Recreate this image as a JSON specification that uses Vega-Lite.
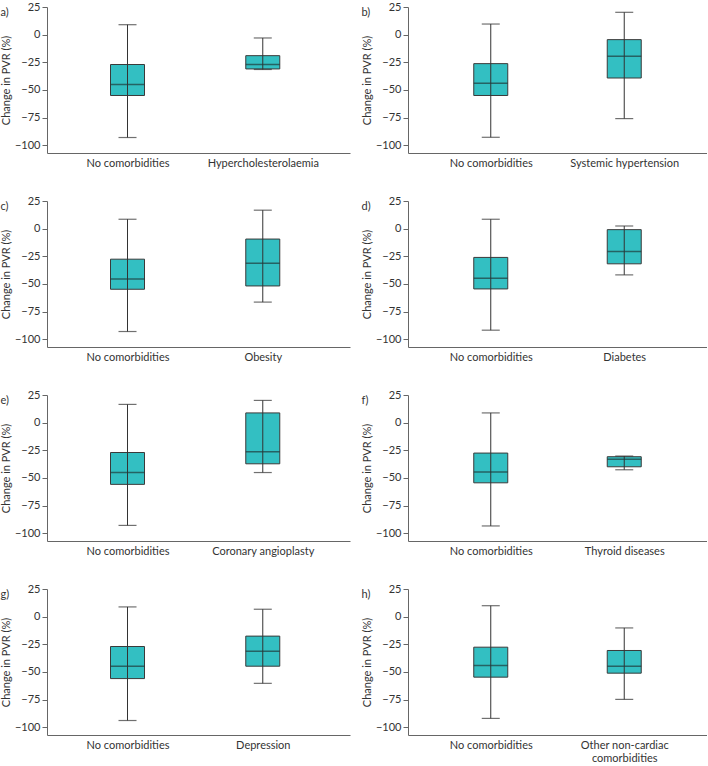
{
  "$schema": "https://vega.github.io/schema/vega-lite/v6.json",
  "padding": {"left": 0, "top": 1, "right": 0, "bottom": 0},
  "datasets": {
    "boxes": [
      {"panel": "a", "group": "No comorbidities", "upper": 9, "q3": -27, "median": -45, "q1": -55, "lower": -93},
      {"panel": "a", "group": "Hypercholesterolaemia", "upper": -3, "q3": -19, "median": -27, "q1": -31, "lower": -31.5},
      {"panel": "b", "group": "No comorbidities", "upper": 9.6, "q3": -26.2, "median": -44, "q1": -55, "lower": -92.8},
      {"panel": "b", "group": "Systemic hypertension", "upper": 20.2, "q3": -4.5, "median": -19.6, "q1": -39.2, "lower": -75.9},
      {"panel": "c", "group": "No comorbidities", "upper": 8.5, "q3": -27.6, "median": -45.5, "q1": -54.8, "lower": -93},
      {"panel": "c", "group": "Obesity", "upper": 16.7, "q3": -9.4, "median": -31.2, "q1": -51.8, "lower": -66.4},
      {"panel": "d", "group": "No comorbidities", "upper": 8.5, "q3": -26, "median": -44.8, "q1": -54.5, "lower": -91.8},
      {"panel": "d", "group": "Diabetes", "upper": 2.4, "q3": -0.9, "median": -20.6, "q1": -31.8, "lower": -41.8},
      {"panel": "e", "group": "No comorbidities", "upper": 16.5, "q3": -27, "median": -45, "q1": -55.8, "lower": -92.9},
      {"panel": "e", "group": "Coronary angioplasty", "upper": 20.1, "q3": 8.8, "median": -26.2, "q1": -37.2, "lower": -45.1},
      {"panel": "f", "group": "No comorbidities", "upper": 8.8, "q3": -27.5, "median": -44.7, "q1": -54.4, "lower": -93.4},
      {"panel": "f", "group": "Thyroid diseases", "upper": -30.2, "q3": -30.8, "median": -33.2, "q1": -39.9, "lower": -42.6},
      {"panel": "g", "group": "No comorbidities", "upper": 8.8, "q3": -27, "median": -44.8, "q1": -56, "lower": -93.9},
      {"panel": "g", "group": "Depression", "upper": 6.7, "q3": -17.6, "median": -31.2, "q1": -44.8, "lower": -60.3},
      {"panel": "h", "group": "No comorbidities", "upper": 9.9, "q3": -27.6, "median": -44.2, "q1": -54.7, "lower": -92},
      {"panel": "h", "group": "Other non-cardiac comorbidities", "upper": -10.2, "q3": -30.6, "median": -44.8, "q1": -51.1, "lower": -74.8}
    ]
  },
  "data": {"name": "boxes"},
  "columns": 2,
  "spacing": {"row": 48, "column": 58},
  "bounds": "flush",
  "concat": [
    {
      "width": 303, "height": 146,
      "title": {"text": "a)"},
      "transform": [{"filter": "datum.panel == 'a'"}],
      "encoding": {"x": {"field": "group", "type": "nominal", "sort": null, "scale": {"type": "point", "padding": 0.62, "align": 0.48}, "axis": {"title": null}}},
      "layer": [
        {"mark": {"type": "bar", "size": 34, "fill": "#33BFC2", "stroke": "#3a3a3a", "strokeWidth": 1},
         "encoding": {"y": {"field": "q1", "type": "quantitative", "scale": {"domain": [-107, 25], "nice": false}, "axis": {"title": "Change in PVR (%)", "values": [-100, -75, -50, -25, 0, 25]}}, "y2": {"field": "q3"}}},
        {"mark": {"type": "rule", "color": "#333", "strokeWidth": 1}, "encoding": {"y": {"field": "lower", "type": "quantitative", "scale": {"domain": [-107, 25], "nice": false}, "axis": {"title": "Change in PVR (%)", "values": [-100, -75, -50, -25, 0, 25]}}, "y2": {"field": "upper"}}},
        {"mark": {"type": "tick", "size": 34, "thickness": 1.5, "color": "#1f3a3a"}, "encoding": {"y": {"field": "median", "type": "quantitative", "scale": {"domain": [-107, 25], "nice": false}, "axis": {"title": "Change in PVR (%)", "values": [-100, -75, -50, -25, 0, 25]}}}},
        {"mark": {"type": "tick", "size": 18, "thickness": 1.2, "color": "#333"}, "encoding": {"y": {"field": "lower", "type": "quantitative", "scale": {"domain": [-107, 25], "nice": false}, "axis": {"title": "Change in PVR (%)", "values": [-100, -75, -50, -25, 0, 25]}}}},
        {"mark": {"type": "tick", "size": 18, "thickness": 1.2, "color": "#333"}, "encoding": {"y": {"field": "upper", "type": "quantitative", "scale": {"domain": [-107, 25], "nice": false}, "axis": {"title": "Change in PVR (%)", "values": [-100, -75, -50, -25, 0, 25]}}}}
      ]
    },
    {
      "width": 299, "height": 146,
      "title": {"text": "b)"},
      "transform": [{"filter": "datum.panel == 'b'"}],
      "encoding": {"x": {"field": "group", "type": "nominal", "sort": null, "scale": {"type": "point", "padding": 0.62, "align": 0.5}, "axis": {"title": null}}},
      "layer": [
        {"mark": {"type": "bar", "size": 34, "fill": "#33BFC2", "stroke": "#3a3a3a", "strokeWidth": 1},
         "encoding": {"y": {"field": "q1", "type": "quantitative", "scale": {"domain": [-107, 25], "nice": false}, "axis": {"title": "Change in PVR (%)", "values": [-100, -75, -50, -25, 0, 25]}}, "y2": {"field": "q3"}}},
        {"mark": {"type": "rule", "color": "#333", "strokeWidth": 1}, "encoding": {"y": {"field": "lower", "type": "quantitative", "scale": {"domain": [-107, 25], "nice": false}, "axis": {"title": "Change in PVR (%)", "values": [-100, -75, -50, -25, 0, 25]}}, "y2": {"field": "upper"}}},
        {"mark": {"type": "tick", "size": 34, "thickness": 1.5, "color": "#1f3a3a"}, "encoding": {"y": {"field": "median", "type": "quantitative", "scale": {"domain": [-107, 25], "nice": false}, "axis": {"title": "Change in PVR (%)", "values": [-100, -75, -50, -25, 0, 25]}}}},
        {"mark": {"type": "tick", "size": 18, "thickness": 1.2, "color": "#333"}, "encoding": {"y": {"field": "lower", "type": "quantitative", "scale": {"domain": [-107, 25], "nice": false}, "axis": {"title": "Change in PVR (%)", "values": [-100, -75, -50, -25, 0, 25]}}}},
        {"mark": {"type": "tick", "size": 18, "thickness": 1.2, "color": "#333"}, "encoding": {"y": {"field": "upper", "type": "quantitative", "scale": {"domain": [-107, 25], "nice": false}, "axis": {"title": "Change in PVR (%)", "values": [-100, -75, -50, -25, 0, 25]}}}}
      ]
    },
    {
      "width": 303, "height": 146,
      "title": {"text": "c)"},
      "transform": [{"filter": "datum.panel == 'c'"}],
      "encoding": {"x": {"field": "group", "type": "nominal", "sort": null, "scale": {"type": "point", "padding": 0.62, "align": 0.48}, "axis": {"title": null}}},
      "layer": [
        {"mark": {"type": "bar", "size": 34, "fill": "#33BFC2", "stroke": "#3a3a3a", "strokeWidth": 1},
         "encoding": {"y": {"field": "q1", "type": "quantitative", "scale": {"domain": [-107, 25], "nice": false}, "axis": {"title": "Change in PVR (%)", "values": [-100, -75, -50, -25, 0, 25]}}, "y2": {"field": "q3"}}},
        {"mark": {"type": "rule", "color": "#333", "strokeWidth": 1}, "encoding": {"y": {"field": "lower", "type": "quantitative", "scale": {"domain": [-107, 25], "nice": false}, "axis": {"title": "Change in PVR (%)", "values": [-100, -75, -50, -25, 0, 25]}}, "y2": {"field": "upper"}}},
        {"mark": {"type": "tick", "size": 34, "thickness": 1.5, "color": "#1f3a3a"}, "encoding": {"y": {"field": "median", "type": "quantitative", "scale": {"domain": [-107, 25], "nice": false}, "axis": {"title": "Change in PVR (%)", "values": [-100, -75, -50, -25, 0, 25]}}}},
        {"mark": {"type": "tick", "size": 18, "thickness": 1.2, "color": "#333"}, "encoding": {"y": {"field": "lower", "type": "quantitative", "scale": {"domain": [-107, 25], "nice": false}, "axis": {"title": "Change in PVR (%)", "values": [-100, -75, -50, -25, 0, 25]}}}},
        {"mark": {"type": "tick", "size": 18, "thickness": 1.2, "color": "#333"}, "encoding": {"y": {"field": "upper", "type": "quantitative", "scale": {"domain": [-107, 25], "nice": false}, "axis": {"title": "Change in PVR (%)", "values": [-100, -75, -50, -25, 0, 25]}}}}
      ]
    },
    {
      "width": 299, "height": 146,
      "title": {"text": "d)"},
      "transform": [{"filter": "datum.panel == 'd'"}],
      "encoding": {"x": {"field": "group", "type": "nominal", "sort": null, "scale": {"type": "point", "padding": 0.62, "align": 0.5}, "axis": {"title": null}}},
      "layer": [
        {"mark": {"type": "bar", "size": 34, "fill": "#33BFC2", "stroke": "#3a3a3a", "strokeWidth": 1},
         "encoding": {"y": {"field": "q1", "type": "quantitative", "scale": {"domain": [-107, 25], "nice": false}, "axis": {"title": "Change in PVR (%)", "values": [-100, -75, -50, -25, 0, 25]}}, "y2": {"field": "q3"}}},
        {"mark": {"type": "rule", "color": "#333", "strokeWidth": 1}, "encoding": {"y": {"field": "lower", "type": "quantitative", "scale": {"domain": [-107, 25], "nice": false}, "axis": {"title": "Change in PVR (%)", "values": [-100, -75, -50, -25, 0, 25]}}, "y2": {"field": "upper"}}},
        {"mark": {"type": "tick", "size": 34, "thickness": 1.5, "color": "#1f3a3a"}, "encoding": {"y": {"field": "median", "type": "quantitative", "scale": {"domain": [-107, 25], "nice": false}, "axis": {"title": "Change in PVR (%)", "values": [-100, -75, -50, -25, 0, 25]}}}},
        {"mark": {"type": "tick", "size": 18, "thickness": 1.2, "color": "#333"}, "encoding": {"y": {"field": "lower", "type": "quantitative", "scale": {"domain": [-107, 25], "nice": false}, "axis": {"title": "Change in PVR (%)", "values": [-100, -75, -50, -25, 0, 25]}}}},
        {"mark": {"type": "tick", "size": 18, "thickness": 1.2, "color": "#333"}, "encoding": {"y": {"field": "upper", "type": "quantitative", "scale": {"domain": [-107, 25], "nice": false}, "axis": {"title": "Change in PVR (%)", "values": [-100, -75, -50, -25, 0, 25]}}}}
      ]
    },
    {
      "width": 303, "height": 146,
      "title": {"text": "e)"},
      "transform": [{"filter": "datum.panel == 'e'"}],
      "encoding": {"x": {"field": "group", "type": "nominal", "sort": null, "scale": {"type": "point", "padding": 0.62, "align": 0.48}, "axis": {"title": null}}},
      "layer": [
        {"mark": {"type": "bar", "size": 34, "fill": "#33BFC2", "stroke": "#3a3a3a", "strokeWidth": 1},
         "encoding": {"y": {"field": "q1", "type": "quantitative", "scale": {"domain": [-107, 25], "nice": false}, "axis": {"title": "Change in PVR (%)", "values": [-100, -75, -50, -25, 0, 25]}}, "y2": {"field": "q3"}}},
        {"mark": {"type": "rule", "color": "#333", "strokeWidth": 1}, "encoding": {"y": {"field": "lower", "type": "quantitative", "scale": {"domain": [-107, 25], "nice": false}, "axis": {"title": "Change in PVR (%)", "values": [-100, -75, -50, -25, 0, 25]}}, "y2": {"field": "upper"}}},
        {"mark": {"type": "tick", "size": 34, "thickness": 1.5, "color": "#1f3a3a"}, "encoding": {"y": {"field": "median", "type": "quantitative", "scale": {"domain": [-107, 25], "nice": false}, "axis": {"title": "Change in PVR (%)", "values": [-100, -75, -50, -25, 0, 25]}}}},
        {"mark": {"type": "tick", "size": 18, "thickness": 1.2, "color": "#333"}, "encoding": {"y": {"field": "lower", "type": "quantitative", "scale": {"domain": [-107, 25], "nice": false}, "axis": {"title": "Change in PVR (%)", "values": [-100, -75, -50, -25, 0, 25]}}}},
        {"mark": {"type": "tick", "size": 18, "thickness": 1.2, "color": "#333"}, "encoding": {"y": {"field": "upper", "type": "quantitative", "scale": {"domain": [-107, 25], "nice": false}, "axis": {"title": "Change in PVR (%)", "values": [-100, -75, -50, -25, 0, 25]}}}}
      ]
    },
    {
      "width": 299, "height": 146,
      "title": {"text": "f)"},
      "transform": [{"filter": "datum.panel == 'f'"}],
      "encoding": {"x": {"field": "group", "type": "nominal", "sort": null, "scale": {"type": "point", "padding": 0.62, "align": 0.5}, "axis": {"title": null}}},
      "layer": [
        {"mark": {"type": "bar", "size": 34, "fill": "#33BFC2", "stroke": "#3a3a3a", "strokeWidth": 1},
         "encoding": {"y": {"field": "q1", "type": "quantitative", "scale": {"domain": [-107, 25], "nice": false}, "axis": {"title": "Change in PVR (%)", "values": [-100, -75, -50, -25, 0, 25]}}, "y2": {"field": "q3"}}},
        {"mark": {"type": "rule", "color": "#333", "strokeWidth": 1}, "encoding": {"y": {"field": "lower", "type": "quantitative", "scale": {"domain": [-107, 25], "nice": false}, "axis": {"title": "Change in PVR (%)", "values": [-100, -75, -50, -25, 0, 25]}}, "y2": {"field": "upper"}}},
        {"mark": {"type": "tick", "size": 34, "thickness": 1.5, "color": "#1f3a3a"}, "encoding": {"y": {"field": "median", "type": "quantitative", "scale": {"domain": [-107, 25], "nice": false}, "axis": {"title": "Change in PVR (%)", "values": [-100, -75, -50, -25, 0, 25]}}}},
        {"mark": {"type": "tick", "size": 18, "thickness": 1.2, "color": "#333"}, "encoding": {"y": {"field": "lower", "type": "quantitative", "scale": {"domain": [-107, 25], "nice": false}, "axis": {"title": "Change in PVR (%)", "values": [-100, -75, -50, -25, 0, 25]}}}},
        {"mark": {"type": "tick", "size": 18, "thickness": 1.2, "color": "#333"}, "encoding": {"y": {"field": "upper", "type": "quantitative", "scale": {"domain": [-107, 25], "nice": false}, "axis": {"title": "Change in PVR (%)", "values": [-100, -75, -50, -25, 0, 25]}}}}
      ]
    },
    {
      "width": 303, "height": 146,
      "title": {"text": "g)"},
      "transform": [{"filter": "datum.panel == 'g'"}],
      "encoding": {"x": {"field": "group", "type": "nominal", "sort": null, "scale": {"type": "point", "padding": 0.62, "align": 0.48}, "axis": {"title": null}}},
      "layer": [
        {"mark": {"type": "bar", "size": 34, "fill": "#33BFC2", "stroke": "#3a3a3a", "strokeWidth": 1},
         "encoding": {"y": {"field": "q1", "type": "quantitative", "scale": {"domain": [-107, 25], "nice": false}, "axis": {"title": "Change in PVR (%)", "values": [-100, -75, -50, -25, 0, 25]}}, "y2": {"field": "q3"}}},
        {"mark": {"type": "rule", "color": "#333", "strokeWidth": 1}, "encoding": {"y": {"field": "lower", "type": "quantitative", "scale": {"domain": [-107, 25], "nice": false}, "axis": {"title": "Change in PVR (%)", "values": [-100, -75, -50, -25, 0, 25]}}, "y2": {"field": "upper"}}},
        {"mark": {"type": "tick", "size": 34, "thickness": 1.5, "color": "#1f3a3a"}, "encoding": {"y": {"field": "median", "type": "quantitative", "scale": {"domain": [-107, 25], "nice": false}, "axis": {"title": "Change in PVR (%)", "values": [-100, -75, -50, -25, 0, 25]}}}},
        {"mark": {"type": "tick", "size": 18, "thickness": 1.2, "color": "#333"}, "encoding": {"y": {"field": "lower", "type": "quantitative", "scale": {"domain": [-107, 25], "nice": false}, "axis": {"title": "Change in PVR (%)", "values": [-100, -75, -50, -25, 0, 25]}}}},
        {"mark": {"type": "tick", "size": 18, "thickness": 1.2, "color": "#333"}, "encoding": {"y": {"field": "upper", "type": "quantitative", "scale": {"domain": [-107, 25], "nice": false}, "axis": {"title": "Change in PVR (%)", "values": [-100, -75, -50, -25, 0, 25]}}}}
      ]
    },
    {
      "width": 299, "height": 146,
      "title": {"text": "h)"},
      "transform": [{"filter": "datum.panel == 'h'"}],
      "encoding": {"x": {"field": "group", "type": "nominal", "sort": null, "scale": {"type": "point", "padding": 0.62, "align": 0.5}, "axis": {"title": null, "labelExpr": "datum.label == 'Other non-cardiac comorbidities' ? ['Other non-cardiac', 'comorbidities'] : datum.label"}}},
      "layer": [
        {"mark": {"type": "bar", "size": 34, "fill": "#33BFC2", "stroke": "#3a3a3a", "strokeWidth": 1},
         "encoding": {"y": {"field": "q1", "type": "quantitative", "scale": {"domain": [-107, 25], "nice": false}, "axis": {"title": "Change in PVR (%)", "values": [-100, -75, -50, -25, 0, 25]}}, "y2": {"field": "q3"}}},
        {"mark": {"type": "rule", "color": "#333", "strokeWidth": 1}, "encoding": {"y": {"field": "lower", "type": "quantitative", "scale": {"domain": [-107, 25], "nice": false}, "axis": {"title": "Change in PVR (%)", "values": [-100, -75, -50, -25, 0, 25]}}, "y2": {"field": "upper"}}},
        {"mark": {"type": "tick", "size": 34, "thickness": 1.5, "color": "#1f3a3a"}, "encoding": {"y": {"field": "median", "type": "quantitative", "scale": {"domain": [-107, 25], "nice": false}, "axis": {"title": "Change in PVR (%)", "values": [-100, -75, -50, -25, 0, 25]}}}},
        {"mark": {"type": "tick", "size": 18, "thickness": 1.2, "color": "#333"}, "encoding": {"y": {"field": "lower", "type": "quantitative", "scale": {"domain": [-107, 25], "nice": false}, "axis": {"title": "Change in PVR (%)", "values": [-100, -75, -50, -25, 0, 25]}}}},
        {"mark": {"type": "tick", "size": 18, "thickness": 1.2, "color": "#333"}, "encoding": {"y": {"field": "upper", "type": "quantitative", "scale": {"domain": [-107, 25], "nice": false}, "axis": {"title": "Change in PVR (%)", "values": [-100, -75, -50, -25, 0, 25]}}}}
      ]
    }
  ],
  "config": {
    "view": {"stroke": null},
    "font": "Lato",
    "axis": {"grid": false, "domainColor": "#666", "tickColor": "#666", "labelColor": "#333", "labelFont": "Lato", "labelFontSize": 11, "titleFont": "Lato", "titleFontSize": 11, "titleFontWeight": "normal", "titleColor": "#333"},
    "axisX": {"ticks": false, "labelPadding": 4, "labelAngle": 0, "labelLineHeight": 13},
    "axisY": {"tickSize": 5, "labelPadding": 2, "titlePadding": 3, "labelOverlap": false},
    "title": {"anchor": "start", "frame": "bounds", "font": "Lato", "fontSize": 11, "fontWeight": "normal", "color": "#333", "offset": 0, "baseline": "top", "dy": 21}
  }
}
